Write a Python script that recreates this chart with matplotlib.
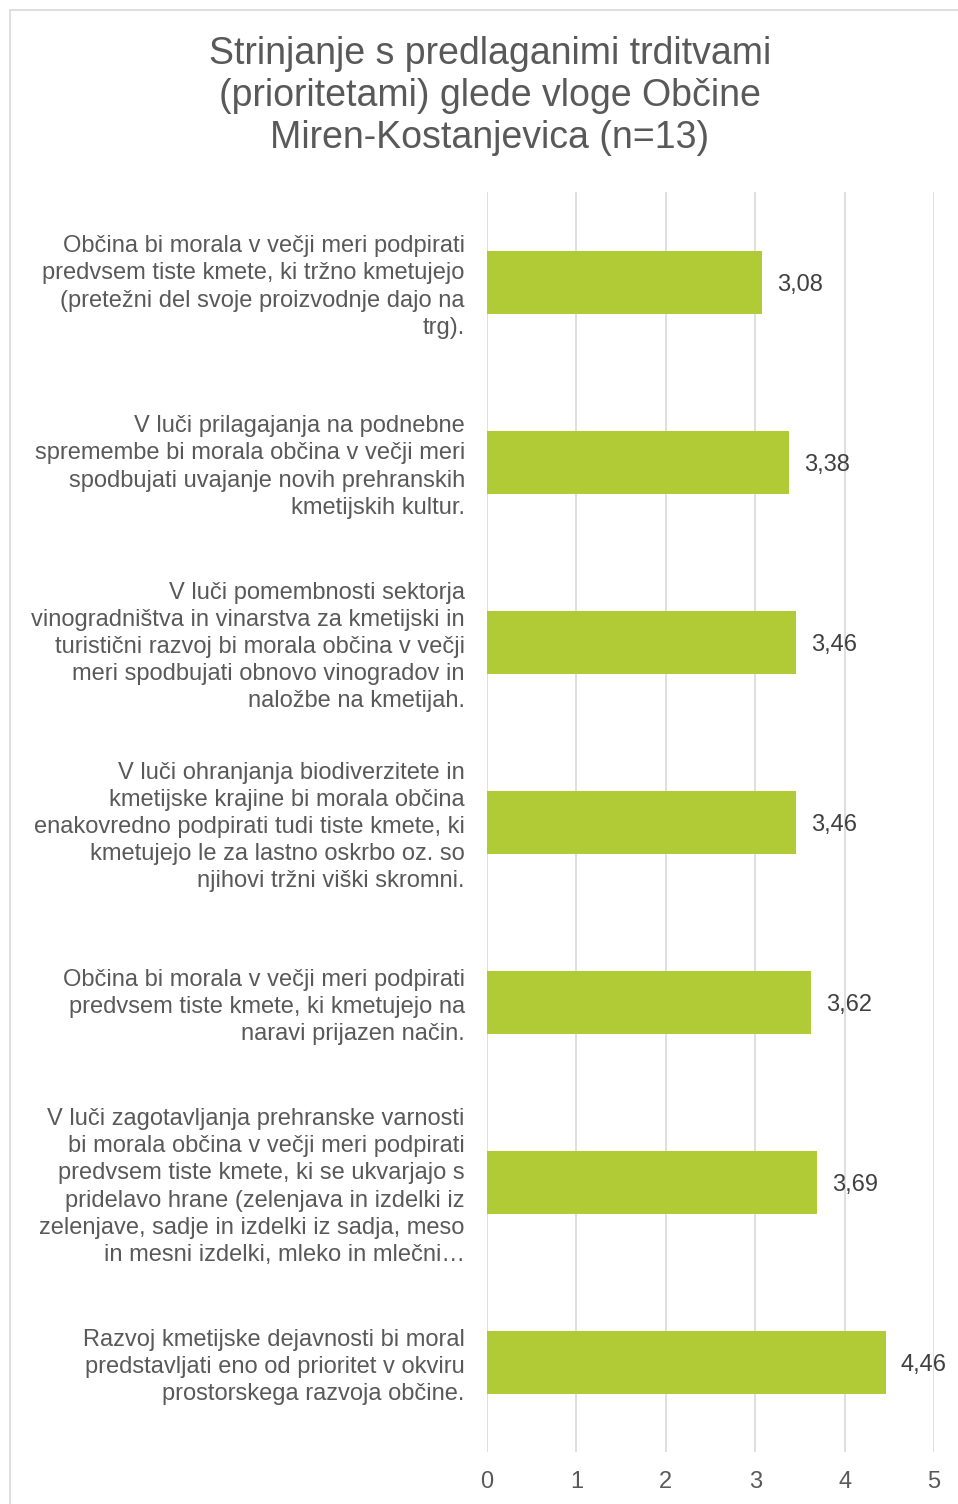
#!/usr/bin/env python
""" Horizontal bar chart: agreement with proposed statements (Miren-Kostanjevica) """

import matplotlib
matplotlib.use('Agg')
import matplotlib.pyplot as plt
from matplotlib.patches import Rectangle

plt.rcParams['font.family'] = ['Liberation Sans', 'DejaVu Sans']

title = "Strinjanje s predlaganimi trditvami\n(prioritetami) glede vloge Občine\nMiren-Kostanjevica (n=13)"

labels = [
    "Občina bi morala v večji meri podpirati\npredvsem tiste kmete, ki tržno kmetujejo\n(pretežni del svoje proizvodnje dajo na\ntrg).",
    "V luči prilagajanja na podnebne\nspremembe bi morala občina v večji meri\nspodbujati uvajanje novih prehranskih\nkmetijskih kultur.",
    "V luči pomembnosti sektorja\nvinogradništva in vinarstva za kmetijski in\nturistični razvoj bi morala občina v večji\nmeri spodbujati obnovo vinogradov in\nnaložbe na kmetijah.",
    "V luči ohranjanja biodiverzitete in\nkmetijske krajine bi morala občina\nenakovredno podpirati tudi tiste kmete, ki\nkmetujejo le za lastno oskrbo oz. so\nnjihovi tržni viški skromni.",
    "Občina bi morala v večji meri podpirati\npredvsem tiste kmete, ki kmetujejo na\nnaravi prijazen način.",
    "V luči zagotavljanja prehranske varnosti\nbi morala občina v večji meri podpirati\npredvsem tiste kmete, ki se ukvarjajo s\npridelavo hrane (zelenjava in izdelki iz\nzelenjave, sadje in izdelki iz sadja, meso\nin mesni izdelki, mleko in mlečni…",
    "Razvoj kmetijske dejavnosti bi moral\npredstavljati eno od prioritet v okviru\nprostorskega razvoja občine.",
]
values = [3.08, 3.38, 3.46, 3.46, 3.62, 3.69, 4.46]
value_text = ["3,08", "3,38", "3,46", "3,46", "3,62", "3,69", "4,46"]
xticks = [0, 1, 2, 3, 4, 5]

grey = '#595959'
green = '#B0CB35'

fig = plt.figure(figsize=(9.58, 15.04), dpi=100)
fig.patches.append(Rectangle((10/958, -0.1), 1.2, 1.1 - 10/1504, transform=fig.transFigure,
                             fill=False, edgecolor='#D9D9D9', linewidth=1.2))

ax = fig.add_axes([487/958, 1 - 1452/1504, 447/958, 1260/1504])

pos = list(range(len(values)))
ax.barh(pos, values, height=0.35, color=green, zorder=3)
ax.set_ylim(len(values) - 0.5, -0.5)
ax.set_xlim(0, 5)

for p, v, t in zip(pos, values, value_text):
    ax.text(v + 0.17, p + 0.015, t, va='center', ha='left', fontsize=17, color='#404040')

ax.set_yticks(pos)
ax.set_yticklabels(labels, fontsize=17, color=grey, linespacing=1.3)
ax.tick_params(axis='y', length=0, pad=16)
ax.set_xticks(xticks)
ax.set_xticklabels([str(t) for t in xticks], fontsize=17, color=grey)
ax.tick_params(axis='x', length=0, pad=14)

ax.grid(True, axis='x', color='#D9D9D9', linewidth=1.2, zorder=0)
for s in ax.spines.values():
    s.set_visible(False)

fig.text(490/958, 1 - 96/1504, title, ha='center', va='center', fontsize=27,
         color=grey, linespacing=1.23)

plt.savefig('out.png', dpi=100)
